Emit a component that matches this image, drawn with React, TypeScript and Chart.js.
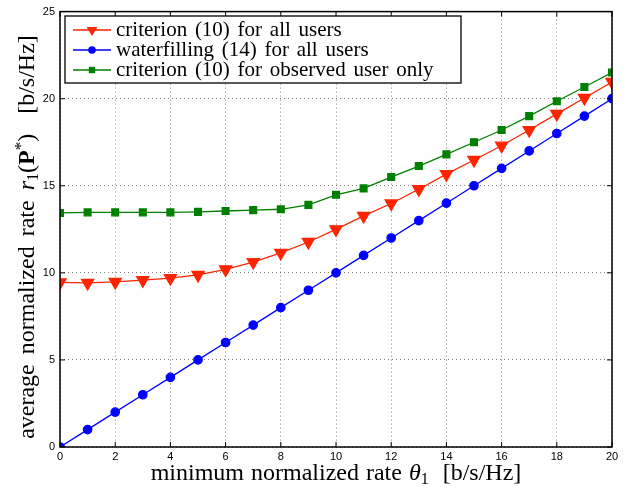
import React, { useEffect, useRef } from "react";
import { Chart, registerables } from "chart.js";

Chart.register(...registerables);

const thetaValues = [0, 1, 2, 3, 4, 5, 6, 7, 8, 9, 10, 11, 12, 13, 14, 15, 16, 17, 18, 19, 20];
const criterionAllUsers = [9.45, 9.42, 9.48, 9.58, 9.7, 9.88, 10.2, 10.62, 11.15, 11.77, 12.5, 13.27, 13.98, 14.8, 15.67, 16.48, 17.3, 18.2, 19.13, 20.04, 20.96];
const waterfillingAllUsers = [0, 1, 2, 3, 4, 5, 6, 7, 8, 9, 10, 11, 12, 13, 14, 15, 16, 17, 18, 19, 20];
const criterionObservedUser = [13.44, 13.47, 13.47, 13.47, 13.47, 13.5, 13.55, 13.6, 13.65, 13.9, 14.48, 14.85, 15.5, 16.13, 16.8, 17.5, 18.2, 19.0, 19.85, 20.67, 21.5];
const xTickValues = [0, 2, 4, 6, 8, 10, 12, 14, 16, 18, 20];
const yTickValues = [0, 5, 10, 15, 20, 25];
const seriesLabels = [
  "criterion (10) for all users",
  "waterfilling (14) for all users",
  "criterion (10) for observed user only",
];

const RED = "#ff2400";
const BLUE = "#0000ff";
const GREEN = "#008000";
const SERIF = "'Liberation Serif', 'Times New Roman', serif";
const SANS = "'Liberation Sans', Arial, sans-serif";

type Seg = { text: string; font: string; dy?: number };

function drawSegs(ctx: CanvasRenderingContext2D, segs: Seg[], x: number, y: number, ws: number) {
  (ctx as any).wordSpacing = ws + "px";
  let total = 0;
  for (const s of segs) {
    ctx.font = s.font;
    total += ctx.measureText(s.text).width;
  }
  let cx = x - total / 2;
  for (const s of segs) {
    ctx.font = s.font;
    ctx.fillText(s.text, cx, y + (s.dy || 0));
    cx += ctx.measureText(s.text).width;
  }
  (ctx as any).wordSpacing = "0px";
}

function drawMarker(ctx: CanvasRenderingContext2D, kind: string, x: number, y: number, color: string) {
  ctx.fillStyle = color;
  ctx.beginPath();
  if (kind === "tri") {
    const r = 6;
    ctx.moveTo(x - r * 0.9, y - r * 0.5);
    ctx.lineTo(x + r * 0.9, y - r * 0.5);
    ctx.lineTo(x, y + r);
    ctx.closePath();
  } else if (kind === "circ") {
    ctx.arc(x, y, 3.8, 0, Math.PI * 2);
  } else {
    ctx.rect(x - 3.2, y - 3.2, 6.4, 6.4);
  }
  ctx.fill();
}

const markerKinds = ["tri", "circ", "sq"];

const framePlugin = {
  id: "matlabFrame",
  afterDatasetsDraw(chart: any) {
    const ctx: CanvasRenderingContext2D = chart.ctx;
    const { left, right, top, bottom } = chart.chartArea;
    const xs = chart.scales.x;
    const ys = chart.scales.y;
    ctx.save();
    ctx.strokeStyle = "#000";
    ctx.lineWidth = 1.5;
    ctx.setLineDash([]);
    ctx.strokeRect(left, top, right - left, bottom - top);
    ctx.lineWidth = 1;
    const tl = 5;
    ctx.beginPath();
    for (const v of xTickValues) {
      const px = xs.getPixelForValue(v);
      ctx.moveTo(px, bottom);
      ctx.lineTo(px, bottom - tl);
      ctx.moveTo(px, top);
      ctx.lineTo(px, top + tl);
    }
    for (const v of yTickValues) {
      const py = ys.getPixelForValue(v);
      ctx.moveTo(left, py);
      ctx.lineTo(left + tl, py);
      ctx.moveTo(right, py);
      ctx.lineTo(right - tl, py);
    }
    ctx.stroke();

    // legend
    const lx = 65, ly = 16, lw = 396, lh = 67;
    ctx.fillStyle = "#fff";
    ctx.fillRect(lx, ly, lw, lh);
    ctx.strokeStyle = "#000";
    ctx.lineWidth = 1.3;
    ctx.strokeRect(lx, ly, lw, lh);
    const rows = [30, 50, 70];
    chart.data.datasets.forEach((ds: any, i: number) => {
      const ry = rows[i];
      ctx.strokeStyle = ds.borderColor;
      ctx.lineWidth = ds.borderWidth;
      ctx.beginPath();
      ctx.moveTo(73, ry);
      ctx.lineTo(111, ry);
      ctx.stroke();
      drawMarker(ctx, markerKinds[i], 92, ry, ds.borderColor);
      ctx.fillStyle = "#000";
      ctx.font = `21px ${SERIF}`;
      (ctx as any).wordSpacing = "2.5px";
      ctx.textBaseline = "alphabetic";
      ctx.textAlign = "left";
      ctx.fillText(ds.label, 116, ry + 6);
      (ctx as any).wordSpacing = "0px";
    });

    // axis titles
    ctx.fillStyle = "#000";
    ctx.textBaseline = "alphabetic";
    ctx.textAlign = "left";
    const cxm = (left + right) / 2;
    drawSegs(
      ctx,
      [
        { text: "minimum normalized rate ", font: `24px ${SERIF}` },
        { text: "θ", font: `italic 24px ${SERIF}` },
        { text: "1", font: `16px ${SERIF}`, dy: 4 },
        { text: "  [b/s/Hz]", font: `24px ${SERIF}` },
      ],
      cxm,
      480,
      1
    );
    ctx.save();
    ctx.translate(34, 237);
    ctx.rotate(-Math.PI / 2);
    drawSegs(
      ctx,
      [
        { text: "average normalized rate ", font: `24px ${SERIF}` },
        { text: "r", font: `italic 24px ${SERIF}` },
        { text: "1", font: `16px ${SERIF}`, dy: 4 },
        { text: "(", font: `24px ${SERIF}` },
        { text: "P", font: `bold 24px ${SERIF}` },
        { text: "*", font: `17px ${SERIF}`, dy: -8 },
        { text: ")  [b/s/Hz]", font: `24px ${SERIF}` },
      ],
      0,
      0,
      4
    );
    ctx.restore();
    ctx.restore();
  },
};

export default function App() {
  const ref = useRef<HTMLCanvasElement | null>(null);
  useEffect(() => {
    if (!ref.current) return;
    const mk = (label: string, vals: number[], color: string, style: string, radius: number, rot = 0) =>
      ({
        label,
        data: thetaValues.map((x, i) => ({ x, y: vals[i] })),
        borderColor: color,
        backgroundColor: color,
        pointBackgroundColor: color,
        pointBorderColor: color,
        borderWidth: 1.3,
        pointStyle: style,
        pointRotation: rot,
        pointRadius: radius,
        tension: 0,
      } as any);
    const chart = new Chart(ref.current, {
      type: "line",
      data: {
        datasets: [
          mk(seriesLabels[0], criterionAllUsers, RED, "triangle", 7, 180),
          mk(seriesLabels[1], waterfillingAllUsers, BLUE, "circle", 4.2),
          mk(seriesLabels[2], criterionObservedUser, GREEN, "rect", 4.8),
        ],
      },
      options: {
        animation: false,
        responsive: true,
        maintainAspectRatio: false,
        layout: { padding: { top: 10, right: 17, left: 0, bottom: 0 } },
        plugins: { legend: { display: false }, tooltip: { enabled: false } },
        scales: {
          x: {
            type: "linear",
            min: 0,
            max: 20,
            afterBuildTicks: (s: any) => {
              s.ticks = xTickValues.map((v) => ({ value: v }));
            },
            afterFit: (s: any) => {
              s.height = 40;
            },
            grid: { color: "rgba(0,0,0,0.5)", drawTicks: false, lineWidth: 1 },
            border: { display: false, dash: [1, 3] },
            ticks: { color: "#000", font: { family: SANS, size: 11 }, padding: 3, maxRotation: 0 },
          },
          y: {
            type: "linear",
            min: 0,
            max: 25,
            afterBuildTicks: (s: any) => {
              s.ticks = yTickValues.map((v) => ({ value: v }));
            },
            afterFit: (s: any) => {
              s.width = 60;
            },
            grid: { color: "rgba(0,0,0,0.5)", drawTicks: false, lineWidth: 1 },
            border: { display: false, dash: [1, 3] },
            ticks: { color: "#000", font: { family: SANS, size: 11 }, padding: 5 },
          },
        },
      },
      plugins: [framePlugin],
    });
    return () => chart.destroy();
  }, []);
  return (
    <div style={{ position: "fixed", left: 0, top: 0, width: 629, height: 487, background: "#fff" }}>
      <canvas ref={ref} />
    </div>
  );
}
